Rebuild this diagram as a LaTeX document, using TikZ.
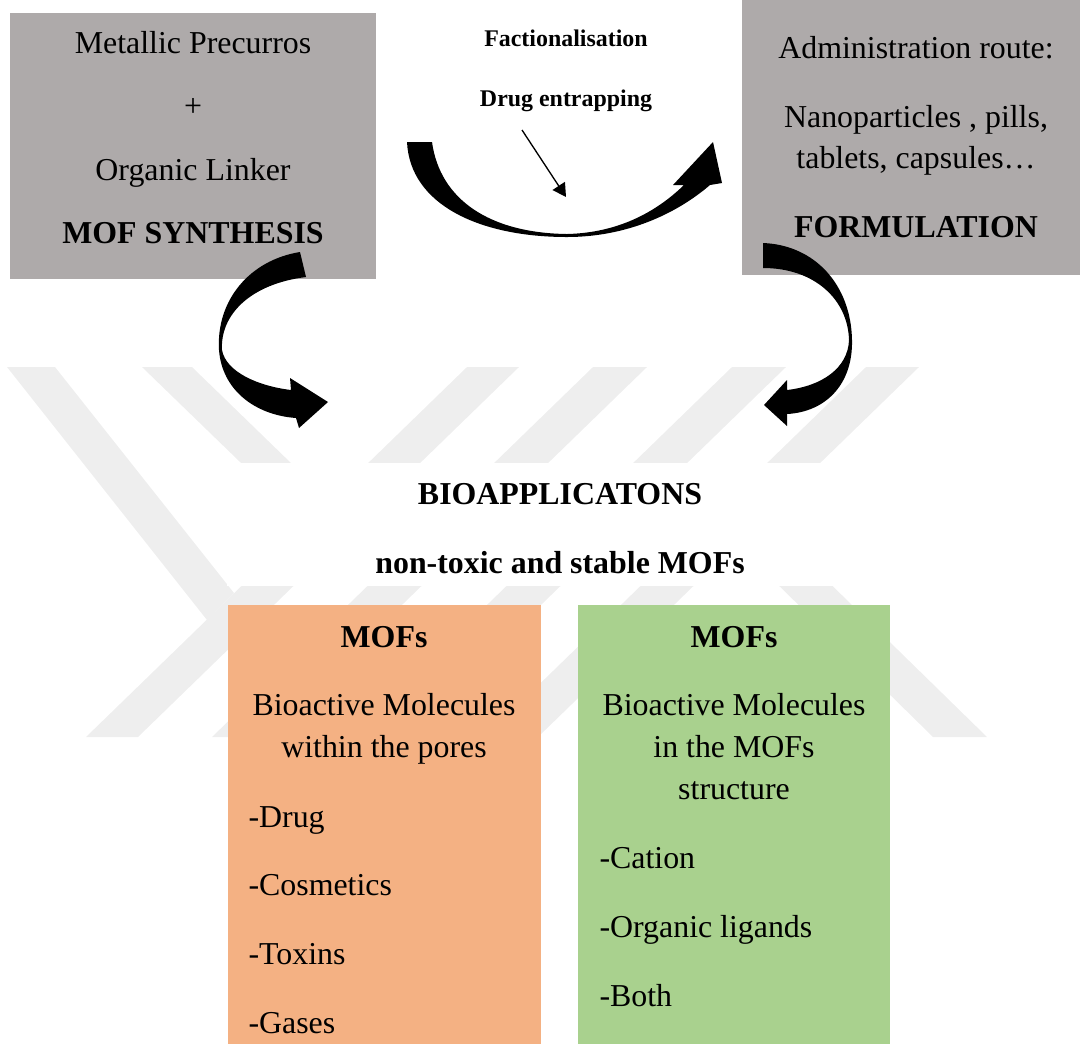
\documentclass[tikz,border=0pt]{standalone}
\usepackage{fontspec}
\setmainfont{Liberation Serif}
\usetikzlibrary{arrows.meta}
\definecolor{panelgray}{HTML}{AEAAAA}
\definecolor{poreorange}{HTML}{F4B183}
\definecolor{framegreen}{HTML}{A9D18E}
\definecolor{markgray}{HTML}{EEEEEE}
\newcommand{\px}{0.3764pt}
\tikzset{
  word/.style={inner sep=0, anchor=base, font=\fontsize{12}{14}\selectfont},
  bword/.style={word, font=\fontsize{12}{14}\selectfont\bfseries},
  tag/.style={inner sep=0, anchor=base, font=\fontsize{9}{11}\selectfont\bfseries},
  item/.style={word, anchor=base west},
  panel/.style={inner sep=0, draw=none},
  band/.style={fill=markgray},
  bigarrow/.style={fill=black},
}

\begin{document}
\begin{tikzpicture}[x=\px, y=-\px]
\useasboundingbox (0,0) rectangle (1081,1044);

% faint watermark stripes
\fill[band] (7,367) -- (55,367) -- (234,593) -- (207,620) -- cycle;
\fill[band] (142,367) -- (192,367) -- (393,562) -- (368,586) -- cycle;
\fill[band] (467,367) -- (519,367) -- (138,737) -- (86,737) -- cycle;
\fill[band] (593,367) -- (647,367) -- (266,737) -- (212,737) -- cycle;
\fill[band] (732,367) -- (786,367) -- (405,737) -- (351,737) -- cycle;
\fill[band] (866,367) -- (919,367) -- (538,737) -- (485,737) -- cycle;
\fill[band] (710,518) -- (763,518) -- (987,737) -- (933,737) -- cycle;

% panels
\node[panel, fill=panelgray, minimum width=366*\px, minimum height=266*\px] (synth) at (193,146) {};
\node[panel, fill=panelgray, minimum width=338*\px, minimum height=275*\px] (formul) at (911,137.5) {};
\node[panel, fill=white, minimum width=667*\px, minimum height=123*\px] (bioapp) at (560.5,524.5) {};
\node[panel, fill=poreorange, minimum width=313*\px, minimum height=439*\px] (pores) at (384.5,824.5) {};
\node[panel, fill=framegreen, minimum width=312*\px, minimum height=439*\px] (frame) at (734,824.5) {};

% synthesis
\node[word] (metal) at (193,53) {Metallic Precurros};
\node[word] (plus) at (193,116) {+};
\node[word] (linker) at (193,180) {Organic Linker};
\node[bword] (synthtitle) at (193,243) {MOF SYNTHESIS};

% formulation
\node[word] (route) at (916,58) {Administration route:};
\node[word] (forms) at (916,127) {Nanoparticles , pills,};
\node[word] (forms2) at (916,168) {tablets, capsules…};
\node[bword] (formtitle) at (916,237) {FORMULATION};

% labels over the top arrow
\node[tag] (funct) at (566,46) {Factionalisation};
\node[tag] (entrap) at (566,106) {Drug entrapping};
\coordinate (entraptail) at (522,130);
\coordinate (entraphead) at (566,197);
\draw[line width=0.5pt, -{Triangle[length=5pt,width=5.5pt]}] (entraptail) -- (entraphead);

% curved arrows
\fill[bigarrow] (407,142) .. controls (410,205) and (480,237) .. (567,237)
  .. controls (625,237) and (675,215) .. (710,185) -- (722,183) -- (713,142)
  -- (673,185) -- (684,185) .. controls (650,218) and (610,233) .. (567,234)
  .. controls (490,233) and (440,200) .. (432,142) -- cycle;
\fill[bigarrow] (300,252) .. controls (250,260) and (216,300) .. (219,350)
  .. controls (222,390) and (255,415) .. (296,418) -- (299,428) -- (328,402)
  -- (290,378) -- (291,390) .. controls (258,386) and (226,372) .. (222,350)
  .. controls (220,315) and (250,284) .. (306,277) -- cycle;
\fill[bigarrow] (763,243) .. controls (815,245) and (851,285) .. (852,340)
  .. controls (853,385) and (825,412) .. (787,414) -- (787,426) -- (764,405)
  -- (787,380) -- (787,390) .. controls (822,386) and (848,368) .. (849,340)
  .. controls (848,300) and (815,268) .. (763,268) -- cycle;

% bioapplications
\node[bword] (biotitle) at (560,504) {BIOAPPLICATONS};
\node[bword] (stable) at (560,573) {non-toxic and stable MOFs};

% molecules within the pores
\node[bword] (poretitle) at (384,647) {MOFs};
\node[word] (pore1) at (384,715) {Bioactive Molecules};
\node[word] (pore2) at (384,757) {within the pores};
\node[item] (drug) at (248,827) {-Drug};
\node[item] (cosm) at (248,895) {-Cosmetics};
\node[item] (toxin) at (248,964) {-Toxins};
\node[item] (gas) at (248,1033) {-Gases};

% molecules in the framework
\node[bword] (frametitle) at (734,647) {MOFs};
\node[word] (frame1) at (734,715) {Bioactive Molecules};
\node[word] (frame2) at (734,757) {in the MOFs};
\node[word] (frame3) at (734,799) {structure};
\node[item] (cation) at (599,868) {-Cation};
\node[item] (ligand) at (599,937) {-Organic ligands};
\node[item] (both) at (599,1006) {-Both};
\end{tikzpicture}
\end{document}
